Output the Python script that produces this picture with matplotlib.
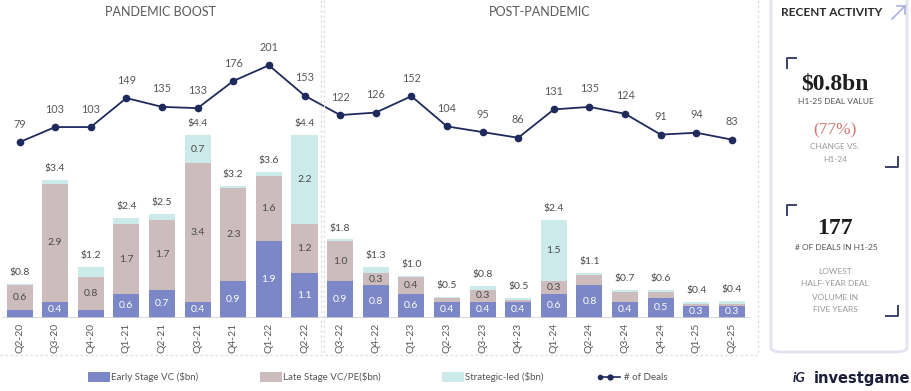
import matplotlib
matplotlib.use("Agg")
import matplotlib.pyplot as plt
from matplotlib.patches import Rectangle, FancyBboxPatch
from matplotlib.lines import Line2D
import numpy as np

quarters = ["Q2-20", "Q3-20", "Q4-20", "Q1-21", "Q2-21", "Q3-21", "Q4-21", "Q1-22", "Q2-22",
            "Q3-22", "Q4-22", "Q1-23", "Q2-23", "Q3-23", "Q4-23", "Q1-24", "Q2-24", "Q3-24",
            "Q4-24", "Q1-25", "Q2-25"]
early = [0.2, 0.4, 0.2, 0.6, 0.7, 0.4, 0.9, 1.9, 1.1,
         0.9, 0.8, 0.6, 0.4, 0.4, 0.4, 0.6, 0.8, 0.4, 0.5, 0.3, 0.3]
late = [0.6, 2.9, 0.8, 1.7, 1.7, 3.4, 2.3, 1.6, 1.2,
        1.0, 0.3, 0.4, 0.08, 0.3, 0.05, 0.3, 0.25, 0.25, 0.15, 0.05, 0.05]
strategic = [0.03, 0.1, 0.25, 0.15, 0.15, 0.7, 0.05, 0.1, 2.2,
             0.03, 0.15, 0.03, 0.04, 0.08, 0.05, 1.5, 0.06, 0.05, 0.03, 0.05, 0.07]
totals = [0.8, 3.4, 1.2, 2.4, 2.5, 4.4, 3.2, 3.6, 4.4,
          1.8, 1.3, 1.0, 0.5, 0.8, 0.5, 2.4, 1.1, 0.7, 0.6, 0.4, 0.4]
deals = [79, 103, 103, 149, 135, 133, 176, 201, 153,
         122, 126, 152, 104, 95, 86, 131, 135, 124, 91, 94, 83]

C_EARLY = "#7b87c6"
C_LATE = "#cdbcbd"
C_STRAT = "#cdeaeb"
C_LINE = "#1f2a5c"
C_TXT = "#5a5a5a"

W, H = 912, 391
fig = plt.figure(figsize=(W / 100, H / 100), dpi=100)
plt.rcParams['font.family'] = ['Lato', 'DejaVu Sans']

def fx(px):
    return px / W

def fy(py):
    return 1 - py / H

# main axes
ax_l, ax_r, ax_t, ax_b = 1.7, 749.8, 30, 318
ax = fig.add_axes([fx(ax_l), fy(ax_b), fx(ax_r - ax_l), (ax_b - ax_t) / H])
ax.set_xlim(-0.5, 20.5)
ax.set_ylim(0, 7.08)
ax.axis("off")
x = np.arange(len(quarters))
bw = 0.73
e = np.array(early); l = np.array(late); s = np.array(strategic)
ax.bar(x, e, bw, color=C_EARLY, zorder=2)
ax.bar(x, l, bw, bottom=e, color=C_LATE, zorder=2)
ax.bar(x, s, bw, bottom=e + l, color=C_STRAT, zorder=2)
ax.plot([-0.45, 20.5], [0, 0], color="#cfcfd6", lw=1.2, zorder=3)

for i in range(len(x)):
    if e[i] >= 0.3:
        ax.text(x[i], e[i] / 2, f"{e[i]:.1f}", ha="center", va="center", color="white", fontsize=7.5, zorder=4)
    if l[i] >= 0.3:
        ax.text(x[i], e[i] + l[i] / 2, f"{l[i]:.1f}", ha="center", va="center", color="#4a4a4a", fontsize=7.5, zorder=4)
    if s[i] >= 0.5:
        ax.text(x[i], e[i] + l[i] + s[i] / 2, f"{s[i]:.1f}", ha="center", va="center", color="#4a4a4a", fontsize=7.5, zorder=4)
    top = e[i] + l[i] + s[i]
    ax.annotate(f"${totals[i]:.1f}", (x[i], top), xytext=(0, 5), textcoords="offset points",
                ha="center", va="bottom", color="#4a4a4a", fontsize=7.5)

ax2 = ax.twinx()
ax2.set_ylim(-200, 257)
ax2.axis("off")
ax2.plot(x, deals, color=C_LINE, lw=1.3, marker="o", ms=4.5, zorder=5)
for i in range(len(x)):
    ax2.annotate(str(deals[i]), (x[i], deals[i]), xytext=(0, 9), textcoords="offset points",
                 ha="center", va="bottom", color=C_TXT, fontsize=7.8)

# x tick labels
for i, q in enumerate(quarters):
    xp = ax_l + (i + 0.5) / 21 * (ax_r - ax_l)
    fig.text(fx(xp), fy(323), q, rotation=90, ha="center", va="top", color=C_TXT, fontsize=7.5)

# section titles
fig.text(fx(160), fy(12), "PANDEMIC BOOST", ha="center", va="center", color=C_TXT, fontsize=9)
fig.text(fx(540), fy(12), "POST-PANDEMIC", ha="center", va="center", color=C_TXT, fontsize=9)

# dashed frames
dash = dict(color="#dedede", lw=0.9, ls=(0, (2, 2)), transform=fig.transFigure)
fig.add_artist(Line2D([fx(321), fx(321)], [fy(0), fy(355)], **dash))
fig.add_artist(Line2D([fx(324), fx(324)], [fy(0), fy(355)], **dash))
fig.add_artist(Line2D([fx(758), fx(758)], [fy(0), fy(355)], **dash))
fig.add_artist(Line2D([fx(0), fx(758)], [fy(355), fy(355)], **dash))

# side panel
panel = FancyBboxPatch((fx(771), fy(352)), fx(136), (352 + 5) / H,
                       boxstyle="round,pad=0,rounding_size=0.012", transform=fig.transFigure,
                       facecolor="white", edgecolor="#e2e3ee", lw=2.0)
fig.add_artist(panel)
fig.text(fx(832), fy(12), "RECENT ACTIVITY", ha="center", va="center", color="#2a2a2a",
         fontsize=8.5, fontweight="bold")
# arrow icon
ac = "#a4abd8"
fig.add_artist(Line2D([fx(892), fx(905)], [fy(19), fy(6)], color=ac, lw=1.1, transform=fig.transFigure))
fig.add_artist(Line2D([fx(897), fx(905), fx(905)], [fy(6), fy(6), fy(14)], color=ac, lw=1.1, transform=fig.transFigure))

bc = "#3b4168"
def bracket_tl(px, py):
    fig.add_artist(Line2D([fx(px), fx(px), fx(px + 9)], [fy(py + 10), fy(py), fy(py)], color=bc, lw=1.4,
                          transform=fig.transFigure))

def bracket_br(px, py):
    fig.add_artist(Line2D([fx(px - 12), fx(px), fx(px)], [fy(py), fy(py), fy(py - 10)], color=bc, lw=1.4,
                          transform=fig.transFigure))

bracket_tl(787, 58)
bracket_br(898, 167)
bracket_tl(787, 205)
bracket_br(898, 316)

serif = ["Liberation Serif", "DejaVu Serif"]
fig.text(fx(835), fy(84), "$0.8bn", ha="center", va="center", family=serif, fontweight="bold",
         fontsize=17, color="#1e1e1e")
fig.text(fx(836), fy(102), "H1-25 DEAL VALUE", ha="center", va="center", fontsize=6, color="#555555")
fig.text(fx(835), fy(130), "(77%)", ha="center", va="center", family=serif, fontsize=12.5, color="#d07670")
fig.text(fx(835), fy(147), "CHANGE VS.", ha="center", va="center", fontsize=6, color="#9a9a9a")
fig.text(fx(835), fy(159), "H1-24", ha="center", va="center", fontsize=6, color="#9a9a9a")

fig.text(fx(835), fy(229), "177", ha="center", va="center", family=serif, fontweight="bold",
         fontsize=17, color="#1e1e1e")
fig.text(fx(836), fy(248), "# OF DEALS IN H1-25", ha="center", va="center", fontsize=6, color="#555555")
for k, t in enumerate(["LOWEST", "HALF-YEAR DEAL", "VOLUME IN", "FIVE YEARS"]):
    fig.text(fx(835), fy(271 + 13 * k), t, ha="center", va="center", fontsize=6, color="#9a9a9a")

# legend
ly = 377
items = [(88, "patch", C_EARLY, "Early Stage VC ($bn)"),
         (260, "patch", C_LATE, "Late Stage VC/PE($bn)"),
         (442, "patch", C_STRAT, "Strategic-led ($bn)")]
for px, kind, col, lab in items:
    fig.add_artist(Rectangle((fx(px), fy(ly + 5)), fx(22), 10 / H, transform=fig.transFigure,
                             facecolor=col, edgecolor="none"))
    fig.text(fx(px + 23), fy(ly), lab, ha="left", va="center", fontsize=7, color="#555555")
fig.add_artist(Line2D([fx(600), fx(620)], [fy(ly), fy(ly)], color=C_LINE, lw=1.2, marker="o", ms=3,
                      markevery=[0], transform=fig.transFigure))
fig.add_artist(Line2D([fx(610)], [fy(ly)], color=C_LINE, marker="o", ms=3.5, transform=fig.transFigure))
fig.text(fx(624), fy(ly), "# of Deals", ha="left", va="center", fontsize=7, color="#555555")

# logo
fig.text(fx(793), fy(378), "iG", ha="left", va="center", fontsize=10, fontweight="bold", style="italic",
         color="#1a1d3a")
fig.text(fx(814), fy(378), "investgame", ha="left", va="center", fontsize=10.5, fontweight="bold",
         color="#1a1d3a", family=["DejaVu Sans"])

fig.savefig("out.png", dpi=100)
